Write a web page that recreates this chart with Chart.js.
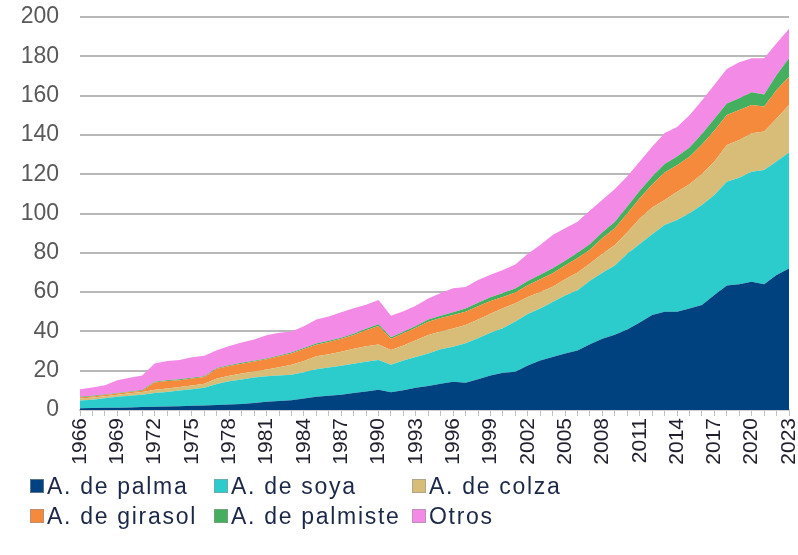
<!DOCTYPE html>
<html>
<head>
<meta charset="utf-8">
<script src="https://cdn.jsdelivr.net/npm/chart.js@4.4.1/dist/chart.umd.min.js"></script>
<style>
  html, body { margin: 0; padding: 0; background: #fff; }
  #wrap { position: relative; width: 798px; height: 555px; }
  #legend {
    position: absolute; left: 30px; top: 472px;
    display: grid; grid-template-columns: 184px 198px 200px; row-gap: 2px;
    font-family: "Liberation Sans", Arial, sans-serif; font-size: 23px; letter-spacing: 1.7px; color: #1c2847;
  }
  #legend .item { display: flex; align-items: center; height: 28px; white-space: nowrap; }
  #legend .box { width: 14px; height: 14px; margin-right: 3px; box-sizing: border-box; border: 1px solid rgba(150,150,150,0.6); }
</style>
</head>
<body>
<div id="wrap">
  <canvas id="chart" width="798" height="555"></canvas>
  <div id="legend"></div>
</div>
<script>
const years = [];
for (let y = 1966; y <= 2023; y++) years.push(String(y));

const seriesNames = ["A. de palma", "A. de soya", "A. de colza", "A. de girasol", "A. de palmiste", "Otros"];
const seriesColors = ["#00427f", "#2dcccc", "#d7bd78", "#f5893c", "#45af60", "#f28ae6"];

// million t
const palma = [0.9, 1.0, 1.1, 1.2, 1.3, 1.5, 1.6, 1.8, 1.9, 2.1, 2.3, 2.5, 2.8, 3.1, 3.6, 4.2, 4.6, 5.0, 5.9, 6.8,
  7.2, 7.8, 8.6, 9.4, 10.3, 9.0, 10.0, 11.3, 12.2, 13.4, 14.4, 13.9, 15.6, 17.6, 19.0, 19.5, 22.7, 25.2, 27.0, 28.8,
  30.3, 33.5, 36.3, 38.3, 41.0, 44.5, 48.3, 50.0, 50.0, 51.7, 53.4, 58.5, 63.3, 64.0, 65.3, 64.0, 68.7, 72.0];
const soya = [3.9, 4.2, 4.9, 5.5, 6.0, 6.2, 7.0, 7.4, 8.0, 8.4, 9.0, 10.7, 11.8, 12.4, 12.9, 13.0, 13.0, 13.0, 13.3, 14.0,
  14.4, 14.7, 14.9, 15.1, 15.1, 14.0, 15.2, 15.7, 16.6, 17.5, 17.8, 20.1, 20.9, 21.7, 22.6, 25.5, 26.1, 26.5, 28.0, 29.5,
  30.7, 32.3, 33.5, 35.2, 38.5, 40.0, 41.2, 44.1, 46.7, 48.4, 50.9, 50.9, 52.9, 54.2, 56.0, 58.1, 57.7, 59.0];
const colza = [1.1, 1.1, 1.0, 1.1, 1.2, 1.5, 1.7, 1.8, 1.8, 2.0, 2.1, 2.8, 2.8, 3.1, 3.1, 3.4, 4.2, 5.0, 5.8, 6.6,
  6.8, 7.1, 7.7, 7.9, 7.9, 7.5, 7.6, 8.5, 9.4, 9.1, 9.3, 9.3, 9.5, 9.7, 10.2, 9.3, 8.7, 8.3, 7.7, 8.2,
  9.0, 8.7, 9.7, 10.5, 11.0, 13.0, 13.5, 12.8, 14.4, 14.8, 15.8, 17.0, 18.7, 19.2, 19.5, 19.6, 22.0, 24.2];
const girasol = [0.6, 0.6, 0.6, 0.6, 0.6, 0.6, 3.7, 3.8, 3.5, 3.5, 3.4, 5.0, 5.0, 5.0, 5.1, 5.2, 5.5, 5.8, 6.0, 5.8,
  6.2, 6.6, 7.0, 8.2, 9.5, 5.8, 6.2, 6.3, 6.7, 6.8, 6.9, 6.7, 6.8, 6.5, 5.7, 5.5, 6.0, 6.5, 6.9, 7.0,
  7.3, 7.0, 8.0, 8.5, 9.5, 10.3, 11.8, 14.0, 13.5, 14.0, 15.0, 15.8, 15.2, 15.3, 14.4, 12.7, 14.4, 14.4];
const palmiste = [0.3, 0.3, 0.3, 0.3, 0.3, 0.4, 0.4, 0.4, 0.4, 0.4, 0.4, 0.4, 0.4, 0.4, 0.4, 0.4, 0.4, 0.4, 0.5, 0.6,
  0.6, 0.6, 0.6, 0.7, 0.8, 0.7, 0.8, 1.0, 1.2, 1.2, 1.4, 1.7, 1.8, 1.9, 2.1, 2.0, 2.2, 2.3, 2.5, 2.5,
  2.7, 3.0, 3.0, 3.3, 3.6, 3.8, 4.0, 4.3, 4.4, 4.7, 5.3, 6.0, 5.9, 6.0, 6.5, 6.2, 7.7, 9.4];
const otros = [3.7, 4.3, 4.7, 6.5, 7.0, 7.4, 9.3, 9.7, 9.9, 10.4, 10.4, 9.0, 9.8, 10.4, 10.8, 11.8, 11.6, 10.7, 11.1, 12.2,
  12.4, 13.0, 13.0, 12.3, 12.4, 11.0, 10.4, 10.2, 10.7, 11.6, 12.1, 10.9, 11.6, 11.4, 11.6, 12.2, 13.8, 15.2, 16.9, 16.5,
  15.8, 17.0, 16.5, 16.7, 15.4, 14.9, 15.2, 15.8, 15.0, 16.4, 17.1, 17.3, 17.5, 18.3, 17.3, 18.4, 16.1, 15.0];

const yTicks = [0, 20, 40, 60, 80, 100, 120, 140, 160, 180, 200];

const allSeries = [palma, soya, colza, girasol, palmiste, otros];

const datasets = allSeries.map((d, i) => ({
  label: seriesNames[i],
  data: d,
  backgroundColor: seriesColors[i],
  borderColor: seriesColors[i],
  borderWidth: 0,
  pointRadius: 0,
  tension: 0,
  fill: i === 0 ? 'origin' : '-1'
}));

const fontFamily = '"Liberation Sans", Arial, sans-serif';

const ctx = document.getElementById('chart').getContext('2d');
new Chart(ctx, {
  type: 'line',
  data: { labels: years, datasets: datasets },
  options: {
    responsive: false,
    animation: false,
    layout: { padding: { left: 0, right: 9, top: 17, bottom: 0 } },
    plugins: { legend: { display: false }, tooltip: { enabled: false } },
    scales: {
      x: {
        offset: false,
        grid: { display: true, drawOnChartArea: false, drawTicks: true, tickLength: 6, color: '#bfbfbf', lineWidth: 1 },
        border: { display: true, color: '#d0d0d0', width: 2 },
        ticks: {
          autoSkip: false, minRotation: 90, maxRotation: 90, padding: 2,
          color: '#1f1f2e',
          font: { family: fontFamily, size: 21 },
          callback: function (v, i) { return (i % 3 === 0) ? years[i] : ''; }
        },
        afterFit: function (s) { s.height = 145; s.paddingLeft = 0; s.paddingRight = 0; }
      },
      y: {
        stacked: true,
        min: 0, max: 200,
        afterBuildTicks: function (s) { s.ticks = yTicks.map(v => ({ value: v })); },
        grid: { color: '#b8b8b8', lineWidth: 2, drawTicks: false },
        border: { display: false },
        ticks: {
          padding: 21,
          color: '#595959',
          font: { family: fontFamily, size: 23 }
        },
        afterFit: function (s) { s.width = 80; s.paddingTop = 0; s.paddingBottom = 0; }
      }
    }
  }
});

// legend in three columns, like the original
const legend = document.getElementById('legend');
seriesNames.forEach((name, i) => {
  const item = document.createElement('div');
  item.className = 'item';
  item.innerHTML = `<span class="box" style="background:${seriesColors[i]}"></span><span>${name}</span>`;
  legend.appendChild(item);
});
</script>
</body>
</html>
